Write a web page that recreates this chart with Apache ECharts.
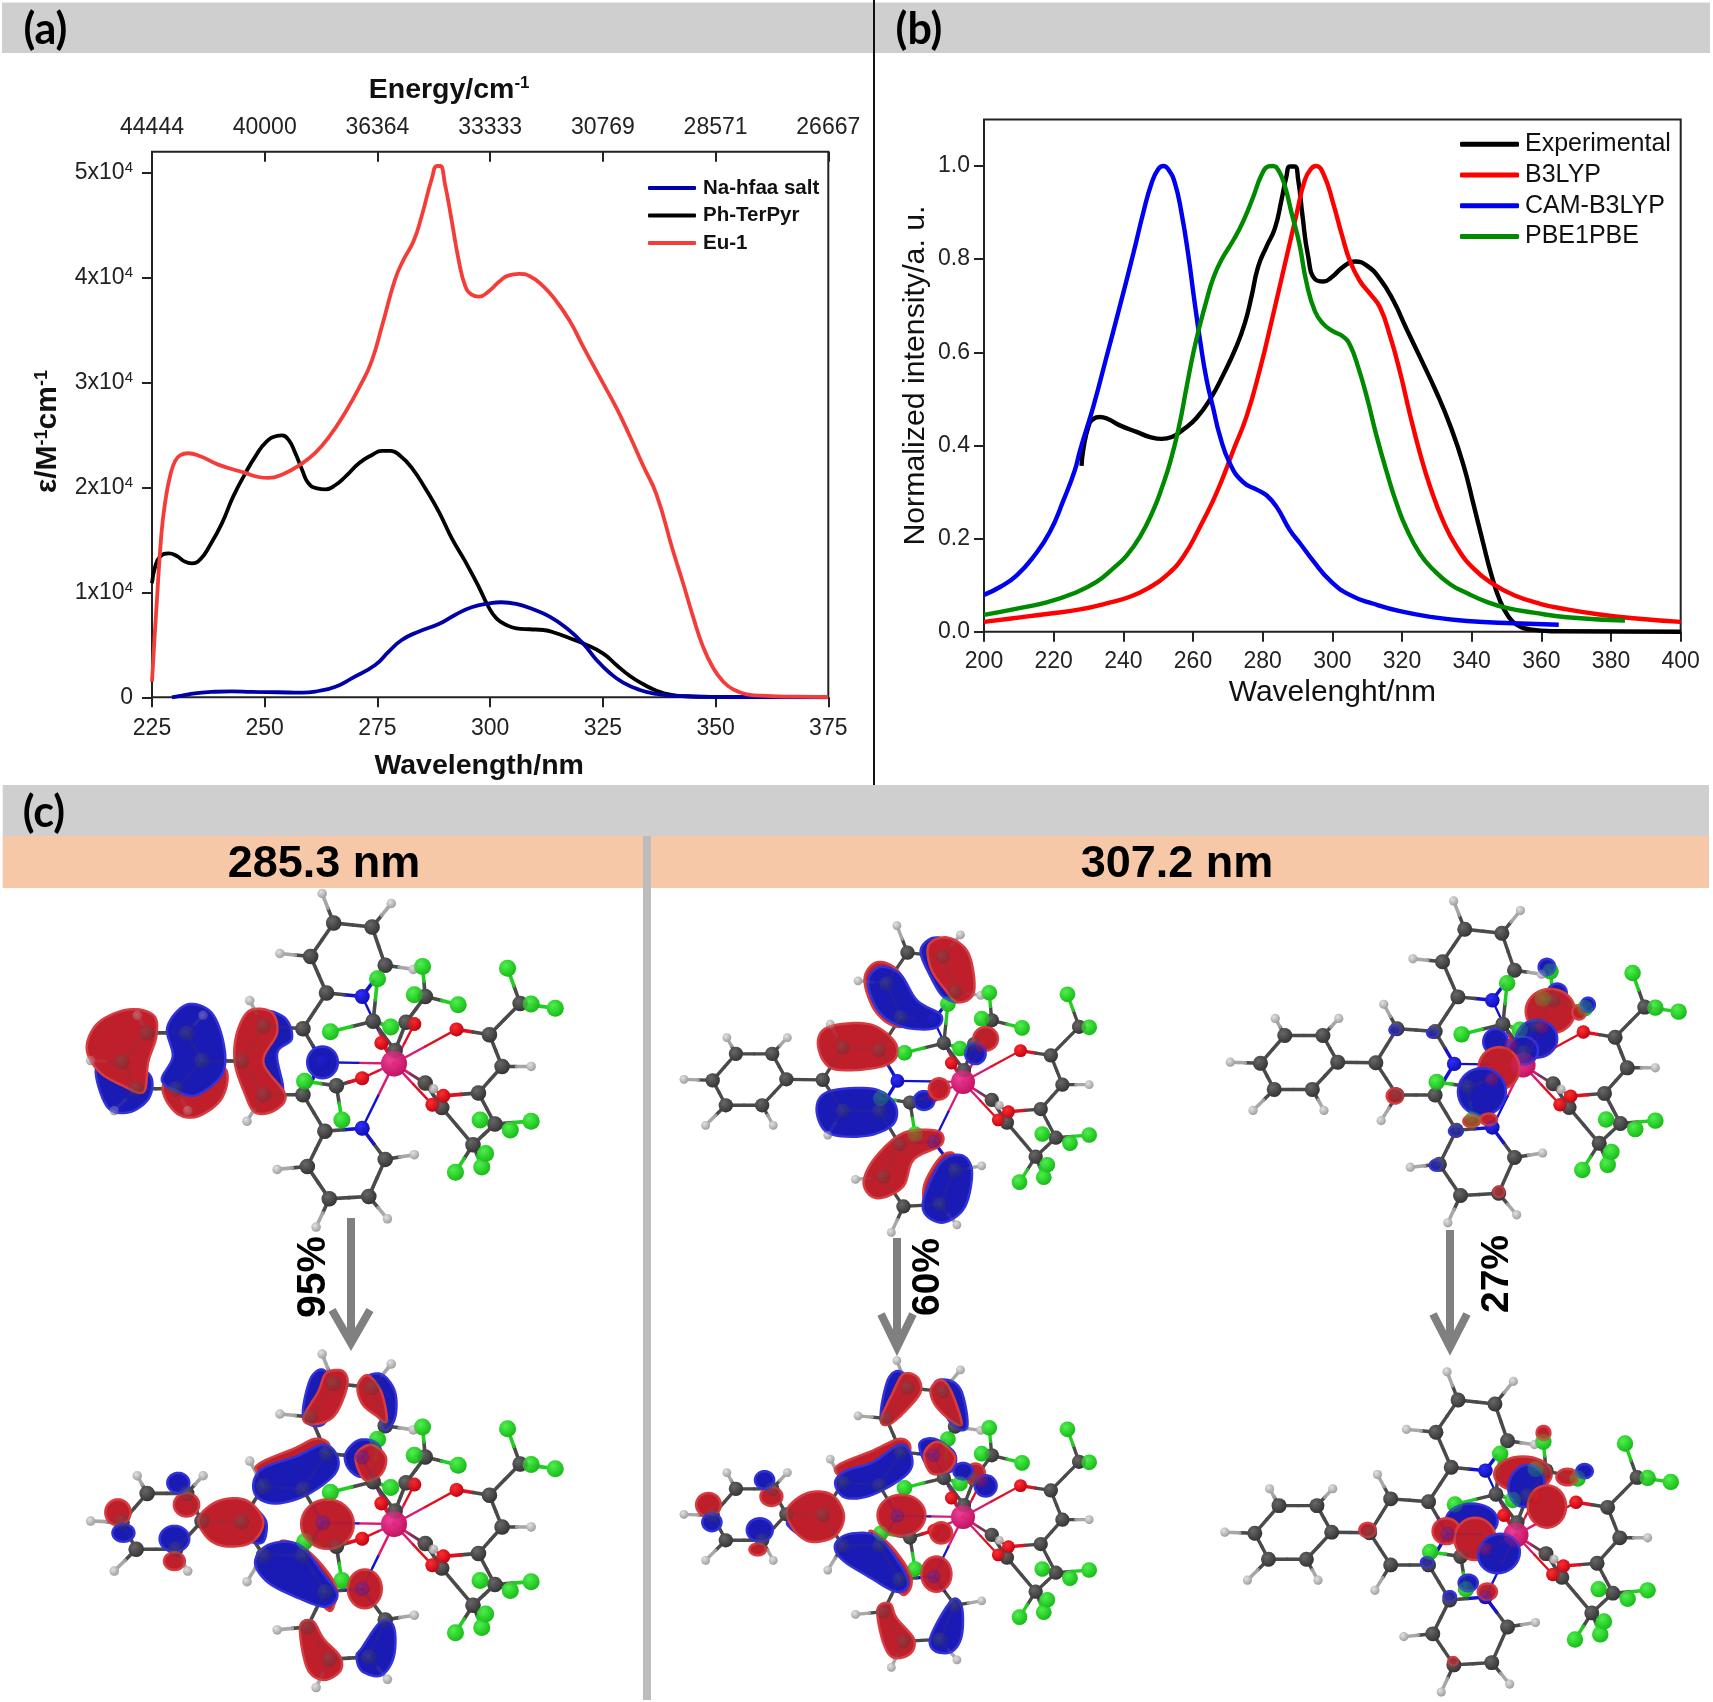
<!DOCTYPE html>
<html><head><meta charset="utf-8">
<script src="https://cdn.jsdelivr.net/npm/echarts@6/dist/echarts.min.js"></script>
<style>html,body{margin:0;padding:0;background:#fff}#c{width:1713px;height:1702px}</style></head>
<body><div id="c"></div>
<script>
// ---------- panel (a): wavelength nm, epsilon in 10^4 M-1 cm-1 ----------
const energyTickLabels = ['44444','40000','36364','33333','30769','28571','26667'];
const epsilonTicks = [0,1,2,3,4,5];
const naHfaa = [[229.4,0],[231.6,.016],[234.5,.038],[238.2,.051],[242.7,.057],[247.1,.051],[253,.048],[258.3,.044],[261.9,.06],[265.7,.10],[269.3,.181],[274.5,.308],[277.5,.435],[280.4,.546],[284.1,.625],[288.6,.698],[292.2,.784],[295.9,.857],[299.9,.895],[302.5,.905],[305.8,.889],[309.5,.838],[313.2,.768],[317,.657],[320.6,.514],[323.6,.356],[326.6,.229],[329.5,.14],[333.2,.07],[336.9,.032],[341.3,.013],[349.5,.003],[375,0]];
const phTerPyr = [[225,1.086],[225.7,1.244],[226.8,1.34],[228.7,1.371],[230.5,1.346],[232.3,1.292],[233.8,1.276],[235.7,1.314],[237.9,1.451],[240.5,1.657],[243,1.911],[245.7,2.133],[247.9,2.292],[250.4,2.435],[252.7,2.489],[253.8,2.495],[255.3,2.451],[256.8,2.324],[258.3,2.165],[259.7,2.038],[261.6,1.990],[263.5,1.981],[265.7,2.022],[267.9,2.102],[270.9,2.229],[273.8,2.308],[276,2.346],[277.9,2.346],[280.1,2.298],[282.7,2.181],[285.6,1.99],[288.6,1.768],[291.5,1.514],[294.5,1.292],[297.5,1.05],[299.6,.863],[301.4,.752],[303.6,.689],[305.8,.657],[308.8,.648],[311.8,.641],[314.7,.61],[317.7,.562],[320.6,.514],[325,.419],[328,.308],[331,.203],[334,.124],[336.9,.063],[339.9,.025],[343.6,.01],[349.5,.003],[375,0]];
const eu1 = [[225,.149],[225.4,.45],[226,.863],[227.1,1.562],[228,1.88],[229,2.105],[230.1,2.248],[231.3,2.307],[233,2.324],[235.7,2.295],[239.7,2.216],[245.6,2.137],[248.6,2.098],[250.8,2.089],[253.8,2.12],[258.2,2.225],[261.2,2.327],[264.1,2.47],[267.8,2.708],[271.5,2.994],[273.7,3.2],[276,3.533],[278.9,3.978],[280.8,4.168],[283,4.343],[284.8,4.581],[287.1,4.946],[288.2,5.06],[288.9,5.06],[290,4.883],[291.5,4.533],[293,4.168],[294.5,3.914],[295.9,3.835],[297.5,3.815],[299.5,3.86],[302.1,3.962],[304,4.016],[306.4,4.032],[308.8,4.01],[311.8,3.914],[314.7,3.771],[317.7,3.581],[320.6,3.343],[325,2.994],[328,2.756],[331,2.486],[334,2.2],[336.9,1.93],[340.5,1.403],[342.8,1.086],[345,.768],[347.2,.483],[349.5,.276],[351.7,.149],[353.9,.076],[356.9,.029],[361.3,.013],[368,.006],[375,.003]];
// ---------- panel (b): wavelength nm, normalized intensity ----------
const normalizedTicks = [0,.2,.4,.6,.8,1];
const experimental = [[228,.356],[228.5,.391],[230,.441],[231.4,.457],[233.3,.461],[235.7,.456],[239,.443],[243.8,.429],[247.7,.418],[251,.414],[253.9,.418],[257.2,.434],[261,.459],[264.9,.499],[268.7,.552],[272.5,.613],[274.9,.663],[276.8,.72],[278.7,.784],[281.1,.827],[283.5,.866],[285.4,.927],[286.8,.977],[287.8,.999],[289.2,.999],[290.2,.97],[291.4,.895],[293,.808],[295,.757],[297.4,.752],[299.8,.761],[303.2,.784],[306.5,.795],[309.9,.786],[313.7,.757],[317.5,.711],[321.3,.65],[325.2,.589],[330,.512],[333.8,.443],[337.6,.359],[340.5,.274],[343.3,.19],[345.7,.121],[348.1,.067],[350.5,.033],[352.9,.015],[356.7,.005],[363.4,.001],[400,0]];
const b3lyp = [[200,.021],[208.4,.029],[218,.038],[227.6,.048],[235.2,.061],[241.9,.075],[247.7,.096],[252.4,.121],[257.2,.161],[262,.225],[265.8,.282],[268.7,.333],[271.6,.39],[275.4,.463],[279.2,.563],[283.1,.684],[286.9,.806],[289.8,.899],[292.1,.97],[294,.995],[295.3,1],[297.6,.98],[300.3,.918],[302.7,.853],[305.1,.795],[307.9,.753],[310.8,.726],[313.7,.696],[316.6,.634],[319.4,.558],[322.3,.466],[325.2,.382],[328,.313],[331.9,.236],[335.7,.182],[340.5,.136],[346.2,.102],[352,.079],[359.6,.06],[367.3,.048],[376.8,.037],[386.4,.029],[400,.021]];
const camB3lyp = [[200,.079],[204.6,.096],[209.4,.121],[214.2,.161],[218.9,.214],[222.8,.282],[226,.345],[227.6,.39],[231.4,.484],[235.2,.591],[239,.699],[242.9,.813],[245.7,.899],[248.1,.963],[250,.993],[251.5,1],[252.9,.993],[254.8,.963],[256.7,.899],[258.7,.806],[260.1,.727],[262,.627],[263.9,.541],[265.8,.48],[267.7,.421],[270.6,.361],[274.4,.321],[278.3,.305],[281.1,.293],[284,.268],[287.8,.218],[290.7,.19],[294.5,.152],[299.3,.11],[305,.079],[311.8,.06],[319.4,.044],[329,.031],[338.6,.023],[352,.018],[365,.015]];
const pbe1pbe = [[200,.036],[208.4,.048],[218,.063],[225.6,.082],[232.3,.107],[237.1,.136],[241,.164],[244.8,.204],[248.6,.261],[251.2,.312],[253.4,.363],[255.8,.434],[258.2,.527],[260.1,.599],[262,.659],[263.9,.712],[265.8,.759],[268.2,.799],[271.6,.841],[274.4,.881],[277.3,.934],[279.7,.981],[281.6,.999],[282.9,1],[284.5,.991],[286.4,.956],[288.3,.899],[290.5,.834],[292.6,.749],[295,.688],[297.4,.661],[300,.646],[303.2,.633],[305.1,.615],[307.5,.566],[309.9,.504],[312.7,.42],[315.6,.343],[318.5,.274],[321.3,.221],[325.2,.167],[329,.133],[333.8,.102],[338.6,.083],[344.3,.064],[350,.051],[357.7,.041],[367.3,.031],[384,.024]];

// ---------- panel (c): molecular structure, in a reference molecule's units ----------
const atomsC = {t1:[608,243],t2:[678,250],t3:[702,315],t5:[595,362],t6:[566,300],c1:[552,423],c2:[480,418],c3:[440,478],c4:[480,535],c5:[552,535],p1:[368,477],p2:[340,430],p3:[268,430],p4:[222,479],p5:[248,525],p6:[320,525],b1:[592,597],b2:[560,657],b3:[600,712],b4:[672,708],b5:[702,645],la1:[892,433],la2:[915,487],la3:[872,532],cf1:[948,380],cf2:[902,585],lb1:[775,515],lb2:[805,557],lb3:[862,620],lc1:[680,410],lc2:[720,460],lc3:[775,368],lc4:[740,412],lc5:[613,520]};
const atomsH = {ht1:[587,193],ht2:[713,210],ht3:[753,322],ht6:[510,295],hc2:[455,375],hc4:[450,580],hp2:[370,400],hp3:[250,400],hp4:[165,477],hp5:[208,562],hp6:[342,562],hb2:[505,662],hb3:[576,760],hb4:[706,746],hb5:[755,637],hla:[968,487],hlb:[790,525]};
const atomsN = {nt:[660,368],nc:[588,480],nb:[660,592]};
const atomsO = {o1:[832,424],o2:[808,537],o3:[660,507],o4:[755,415],o5:[695,447],o6:[788,552]};
const atomsF = {f1:[925,320],f2:[968,381],f3:[1012,388],f4:[968,580],f5:[930,595],f6:[875,578],f7:[830,667],f8:[878,658],f9:[885,635],f10:[770,317],f11:[835,382],f12:[755,365],f13:[688,338],f14:[602,428],f15:[712,420],f16:[555,512],f17:[623,578]};
const atomsEu = {eu:[718,482]};
const bonds = 't1-t2 t2-t3 t3-nt nt-t5 t5-t6 t6-t1 t1-ht1 t2-ht2 t3-ht3 t6-ht6 t5-c1 c1-c2 c2-c3 c3-c4 c4-c5 c5-nc nc-c1 c2-hc2 c4-hc4 c3-p1 c5-b1 p1-p2 p2-p3 p3-p4 p4-p5 p5-p6 p6-p1 p2-hp2 p3-hp3 p4-hp4 p5-hp5 p6-hp6 nb-b1 b1-b2 b2-b3 b3-b4 b4-b5 b5-nb b2-hb2 b3-hb3 b4-hb4 b5-hb5 eu-nt eu-nc eu-nb eu-o1 eu-o2 eu-o3 eu-o4 eu-o5 eu-o6 o1-la1 la1-la2 la2-la3 la3-o2 la2-hla la1-cf1 cf1-f1 cf1-f2 cf1-f3 la3-cf2 cf2-f4 cf2-f5 cf2-f6 lb1-lb2 lb2-lb3 lb1-hlb lb2-o6 lb1-eu lb3-f7 lb3-f8 lb3-f9 lb3-cf2 lc1-lc2 lc2-eu lc1-f13 lc1-f14 lc1-f15 lc3-lc4 lc3-f10 lc3-f11 lc3-f12 lc4-o4 lc4-lc2 lc5-o3 lc5-f16 lc5-f17'.split(' ');
const placements = [[394,1063.5,1],[394,1524,1],[963,1082,.92],[963,1517,.92],[1523,1065,.965],[1516,1535,.96]];
const croppedAtoms = [[],[],['f3'],['f3'],[],[]];
// orbital lobes in crop units of the reference:
// ['r'|'b', outline x,y pairs...] or [centre x, centre y, radius x, radius y, tilt degrees, 'r'|'b']
const lobesA = [
 ['b',175,490,215,480,272,500,272,540,235,565,195,555],
 ['r',158,455,180,412,235,390,280,400,285,435,270,480,262,530,225,520,180,495],
 ['r',297,520,345,480,410,490,405,540,360,572,320,565],
 ['b',305,420,340,382,385,395,408,450,405,500,360,535,325,530,295,510,315,470],
 ['b',480,395,520,405,532,440,505,465,515,530,470,520,480,450],
 ['r',432,430,455,392,495,395,505,430,480,480,520,535,500,562,465,565,445,530,428,480],
 [588,480,28,27,0,'b']];
const lobesB = [
 ['b',553,1085,565,1020,590,1003,610,1040,590,1095],
 ['r',553,1085,580,1040,595,1008,625,1005,633,1030,610,1080,575,1095],
 ['b',665,1020,695,1010,720,1040,720,1085,700,1105,690,1060],
 ['r',652,1030,670,1012,695,1040,705,1090,685,1080,660,1060],
 ['r',465,1170,540,1135,575,1120,600,1130,590,1165,540,1200],
 ['b',462,1195,480,1170,540,1150,590,1130,615,1150,610,1180,560,1215,505,1230,470,1220],
 ['b',630,1145,655,1122,690,1130,695,1170,660,1185,635,1170],
 ['r',648,1150,675,1130,703,1150,695,1180,665,1190],
 ['b',460,1240,485,1260,480,1295,455,1290],
 ['r',362,1255,400,1225,450,1225,480,1260,460,1295,415,1303,380,1290],
 [597,1265,48,42,0,'r'],
 ['r',510,1300,560,1310,610,1365,610,1400,590,1405],
 ['b',465,1330,490,1300,545,1300,590,1350,615,1385,595,1405,555,1395,490,1365],
 [665,1375,31,33,0,'r'],
 ['r',547,1440,570,1430,590,1460,620,1490,620,1515,590,1530,560,1510],
 ['b',660,1475,695,1430,718,1440,718,1490,695,1522,660,1515,650,1490],
 [215,1245,23,22,0,'r'],[225,1280,20,15,0,'b'],[340,1232,23,20,0,'r'],[325,1195,20,17,0,'b'],[318,1290,27,22,0,'b'],[318,1328,19,15,0,'r']];
const lobesC = [
 ['r',260,450,275,420,335,415,372,445,372,475,340,490,280,490],
 ['b',258,560,275,530,340,525,372,550,370,585,330,605,275,600],
 ['r',328,340,345,310,375,322,400,370,420,395,380,420,345,395],
 ['b',333,345,350,318,380,330,405,375,440,400,430,422,385,420,350,395],
 ['b',410,290,430,268,455,285,470,370,445,370,425,335],
 ['r',422,280,450,268,480,295,488,360,465,378,445,355,425,320],
 ['r',327,680,345,640,385,600,435,597,440,620,400,645,385,690,355,710,335,705],
 ['r',415,690,440,640,460,640,445,700,440,745,420,735],
 ['b',415,710,440,650,470,638,485,665,475,725,445,752,418,740],
 [505,440,18,20,0,'r'],[490,465,15,18,0,'b'],[415,545,15,16,0,'b'],[437,525,15,18,0,'r']];
const lobesD = [
 ['b',352,1085,362,1020,380,1005,392,1030,375,1085],
 ['r',352,1088,370,1040,385,1010,405,1015,410,1040,390,1070,365,1095],
 ['b',430,1030,450,1020,470,1040,478,1100,455,1095],
 ['r',425,1035,440,1020,455,1040,470,1095,450,1085,430,1060],
 ['r',285,1170,340,1140,380,1120,395,1135,380,1165,320,1195],
 ['b',285,1195,300,1175,340,1160,380,1130,397,1150,390,1180,340,1215,300,1220],
 ['b',408,1130,430,1120,460,1145,455,1175,425,1175],
 ['r',415,1145,435,1125,460,1150,450,1175,425,1178],
 ['b',225,1255,245,1280,235,1285,215,1265],
 ['r',215,1240,245,1212,280,1215,298,1250,285,1285,250,1295,225,1275],
 [382,1250,35,35,0,'r'],
 ['r',335,1280,365,1300,395,1350,392,1380,375,1375],
 ['b',285,1300,305,1282,345,1285,375,1325,392,1365,375,1380,335,1355,295,1325],
 [433,1350,22,30,0,'r'],
 ['r',347,1410,365,1400,375,1425,400,1460,395,1485,370,1492,355,1465],
 ['b',425,1455,455,1395,470,1405,470,1455,455,1482,430,1480],
 [100,1232,18,20,0,'r'],[105,1262,14,15,0,'b'],[192,1218,16,16,0,'r'],[182,1190,14,15,0,'b'],[175,1275,19,20,0,'b'],[172,1308,12,10,0,'r'],[490,1180,14,18,0,'r'],[505,1200,16,18,0,'b'],[440,1280,16,18,0,'r'],[472,1175,14,14,0,'b']];
const lobesE = [[1340,362,14,16,0,'b'],[1330,393,36,38,0,'r'],[1372,395,10,12,0,'r'],[1385,382,10,12,0,'b'],[1325,318,12,14,0,'b'],[1310,440,30,32,0,'b'],[1250,445,18,22,0,'b'],[1290,460,22,24,0,'b'],[1255,490,30,36,0,'r'],[1230,530,35,40,0,'b'],[1103,537,12,13,0,'r'],[1255,700,8,9,0,'r'],[1163,655,9,9,0,'b'],[1103,425,8,8,0,'b'],[1158,430,8,8,0,'b'],[1192,597,10,9,0,'b'],[1215,580,12,10,0,'r'],[1240,577,12,10,0,'r']];
const lobesF = [[1355,1185,16,14,0,'r'],[1380,1175,12,12,0,'b'],[1320,1110,10,12,0,'r'],[1290,1180,42,30,0,'r'],[1295,1200,26,36,10,'b'],[1325,1235,28,36,0,'r'],[1215,1260,38,30,0,'b'],[1178,1277,20,22,0,'r'],[1220,1290,30,36,0,'r'],[1255,1315,30,34,20,'b'],[1063,1275,12,12,0,'r'],[1210,1365,14,14,0,'b'],[1238,1380,14,14,0,'r'],[1188,1498,7,7,0,'r'],[1150,1330,9,9,0,'b'],[1183,1388,9,9,0,'b']];

// ---------- bars, labels ----------
const panelLetters = [['(a)',45.4,30],['(b)',919,30],['(c)',44,813]];
const stateLabels = [['285.3 nm',324,865],['307.2 nm',1177,865]];
const percentLabels = [['95%',314,1277,41],['60%',928,1277,39],['27%',1497,1274,39]];
const arrows = [[351,1218,1343,19],[897,1238,1347,16],[1450,1230,1347,17]];

const Z3 = [1.823,1.70,0,780], Z4 = [1.461,1.70,640,780];
const SANS = '"Liberation Sans",Arial,sans-serif';
const allAtoms = Object.assign({},atomsC,atomsH,atomsN,atomsO,atomsF,atomsEu);
const typeOf = {};
[[atomsC,'C'],[atomsH,'H'],[atomsN,'N'],[atomsO,'O'],[atomsF,'F'],[atomsEu,'Eu']].forEach(([o,t])=>Object.keys(o).forEach(k=>typeOf[k]=t));
const bondColor = {C:'#4a4a4a',H:'#a8a8a8',N:'#1414d0',O:'#e01020',F:'#22d022',Eu:'#d81c70'};
const atomLook = {C:[15.5,'#6a6a6a','#303030'],H:[9.5,'#e4e4e4','#9a9a9a'],N:[15,'#3030ff','#0c0cb0'],O:[14,'#ff3030','#c00010'],F:[17,'#50f050','#14b814'],Eu:[26,'#f0409a','#c01060']};
function place(pt,m){return [m[0]+m[2]*(pt[0]-718)/1.823, m[1]+m[2]*(pt[1]-482)/1.70];}

const bondSegs = [];
placements.forEach((m,i)=>bonds.forEach(b=>{
  const [a,c]=b.split('-');
  if(croppedAtoms[i].includes(a)||croppedAtoms[i].includes(c)) return;
  const A=place(allAtoms[a],m),C=place(allAtoms[c],m);
  const M=[(A[0]+C[0])/2,(A[1]+C[1])/2];
  const w=(typeOf[a]==='Eu'||typeOf[c]==='Eu'?2.4:3.6)*m[2];
  bondSegs.push([A[0],A[1],M[0],M[1],bondColor[typeOf[a]],w]);
  bondSegs.push([M[0],M[1],C[0],C[1],bondColor[typeOf[c]],w]);
}));
function atomSeries(type,group,z,op){
  const L=atomLook[type];
  const data=[]; placements.forEach((m,i)=>Object.keys(group).forEach(k=>{
    if(croppedAtoms[i].includes(k)) return;
    const q=place(group[k],m);data.push([q[0],q[1],L[0]*m[2]]);}));
  return {type:'scatter',name:'atoms '+type+z,xAxisIndex:3,yAxisIndex:2,data,z,silent:true,symbolSize:d=>d[2],
    itemStyle:{color:new echarts.graphic.RadialGradient(.38,.35,.7,[{offset:0,color:L[1]},{offset:1,color:L[2]}]),opacity:op},animation:false};
}
function bondSeries(z,op){
  return {type:'custom',name:'bonds'+z,xAxisIndex:3,yAxisIndex:2,z,silent:true,animation:false,clip:false,
    data:bondSegs,encode:{x:0,y:1},
    renderItem:(p,api)=>{const d=bondSegs[p.dataIndex],a=api.coord([d[0],d[1]]),b=api.coord([d[2],d[3]]);
      return {type:'line',shape:{x1:a[0],y1:a[1],x2:b[0],y2:b[1]},style:{stroke:d[4],lineWidth:d[5],lineCap:'round',opacity:op}};}};
}
// closed Catmull-Rom through an outline's points
function closedSpline(P){
  const out=[],n=P.length,steps=8;
  for(let i=0;i<n;i++){
    const a=P[(i-1+n)%n],b=P[i],c=P[(i+1)%n],d=P[(i+2)%n];
    for(let s=0;s<steps;s++){
      const t=s/steps,t2=t*t,t3=t2*t;
      out.push([0,1].map(k=>.5*(2*b[k]+(c[k]-a[k])*t+(2*a[k]-5*b[k]+4*c[k]-d[k])*t2+(3*b[k]-a[k]-3*c[k]+d[k])*t3)));
    }
  }
  return out;
}
function lobeOutline(l,Z){
  let pts=[],k;
  if(typeof l[0]==='string'){
    k=l[0];
    const raw=[];
    for(let i=1;i<l.length;i+=2) raw.push([l[i],l[i+1]]);
    pts=closedSpline(raw);
  } else {
    k=l[5];
    const t=l[4]*Math.PI/180;
    for(let i=0;i<36;i++){const a=i/36*2*Math.PI,ex=l[2]*Math.cos(a),ey=l[3]*Math.sin(a);
      pts.push([l[0]+ex*Math.cos(t)-ey*Math.sin(t),l[1]+ex*Math.sin(t)+ey*Math.cos(t)]);}
  }
  return {pts:pts.map(q=>[Z[2]+q[0]/Z[0],Z[3]+q[1]/Z[1]]),k};
}
const rimColor={r:'#d63c40',b:'#3232dc'}, coreColor={r:'#bf1f2b',b:'#1a1ab4'};
const lobeShapes=[];
[[lobesA,Z3],[lobesB,Z3],[lobesC,Z4],[lobesD,Z4],[lobesE,Z4],[lobesF,Z4]].forEach(([ls,Z])=>ls.forEach(l=>lobeShapes.push(lobeOutline(l,Z))));

const chart=echarts.init(document.getElementById('c'),null,{renderer:'canvas'});
const axisCol='#222';
const lineS=(name,data,col,w,xi,yi,z)=>({type:'line',name,data,xAxisIndex:xi,yAxisIndex:yi,showSymbol:false,symbol:'none',smooth:.5,lineStyle:{color:col,width:w},itemStyle:{color:col},z:z||2,animation:false,silent:true,clip:true});

const gfx=[];
const rect=(x,y,w,h,fill)=>gfx.push({type:'rect',shape:{x,y,width:w,height:h},style:{fill},z:0,silent:true});
rect(2,2.5,871,50.5,'#cfcfcf'); rect(875,2.5,835,50.5,'#cfcfcf'); rect(2.7,785,1706.3,51,'#cfcfcf');
rect(2.7,836,640.3,52,'#f6c8a8'); rect(651,836,1058,52,'#f6c8a8'); rect(643,836,8,864,'#bcbcbc');
rect(873,0,2,785,'#111');
const txt=(t,x,y,o,rot)=>gfx.push({type:'text',x,y,rotation:rot||0,z:8,silent:true,style:Object.assign({text:t,fill:'#000',align:'center',verticalAlign:'middle',textAlign:'center',textVerticalAlign:'middle',fontFamily:SANS},o)});
panelLetters.forEach(p=>txt(p[0],p[1],p[2],{fontFamily:'Lato,"Open Sans",sans-serif',fontWeight:'bold',fontSize:43}));
stateLabels.forEach(p=>txt(p[0],p[1],p[2],{fontWeight:'bold',fontSize:45}));
percentLabels.forEach(p=>txt(p[0],p[1],p[2],{fontWeight:'bold',fontSize:p[3]},Math.PI/2));
arrows.forEach(a=>{
  gfx.push({type:'polyline',z:8,silent:true,shape:{points:[[a[0],a[1]],[a[0],a[2]]]},style:{stroke:'#808080',lineWidth:8,fill:null}});
  gfx.push({type:'polyline',z:8,silent:true,shape:{points:[[a[0]-a[3],a[2]-33],[a[0],a[2]],[a[0]+a[3],a[2]-33]]},style:{stroke:'#808080',lineWidth:8,fill:null,lineJoin:'miter'}});
});

chart.setOption({
  animation:false,backgroundColor:'#fff',
  textStyle:{fontFamily:SANS},
  grid:[
    {left:152,top:151.7,width:676.3,height:545.6,show:true,borderColor:axisCol,borderWidth:2,backgroundColor:'transparent',containLabel:false},
    {left:984,top:119.4,width:696.7,height:512.3,show:true,borderColor:axisCol,borderWidth:2,backgroundColor:'transparent',containLabel:false},
    {left:0,top:0,width:1713,height:1702,show:false,containLabel:false}
  ],
  legend:[
    {data:['Na-hfaa salt','Ph-TerPyr','Eu-1'],left:648,top:177.5,padding:0,orient:'vertical',itemWidth:48,itemHeight:4,itemGap:6.5,icon:'roundRect',
      textStyle:{fontFamily:SANS,fontSize:20.5,fontWeight:'bold',color:'#111',padding:[0,0,0,2]},selectedMode:false},
    {data:['Experimental','B3LYP','CAM-B3LYP','PBE1PBE'],left:1460,top:131.7,padding:0,orient:'vertical',itemWidth:59,itemHeight:5,itemGap:5.8,icon:'roundRect',
      textStyle:{fontFamily:SANS,fontSize:25,color:'#111',padding:[0,0,0,1]},selectedMode:false}
  ],
  xAxis:[
    {type:'value',gridIndex:0,min:225,max:375,interval:25,position:'bottom',splitLine:{show:false},axisLine:{show:false},
      axisTick:{length:10,lineStyle:{color:axisCol,width:2}},axisLabel:{margin:20,fontSize:23,color:axisCol},
      name:'Wavelength/nm',nameLocation:'middle',nameGap:54,nameTextStyle:{fontSize:28.5,fontWeight:'bold',color:'#111',padding:[0,22,0,0]}},
    {type:'value',gridIndex:0,min:225,max:375,interval:25,position:'top',splitLine:{show:false},axisLine:{show:false},
      axisTick:{inside:true,length:10,lineStyle:{color:axisCol,width:2}},
      axisLabel:{margin:13,fontSize:23,color:axisCol,formatter:v=>energyTickLabels[Math.round((v-225)/25)]},
      name:'{m|Energy/cm}{s|-1}',nameLocation:'middle',nameGap:47.5,nameTextStyle:{padding:[0,82,0,0],rich:{m:{fontSize:28.5,fontWeight:'bold',color:'#111'},s:{fontSize:17,fontWeight:'bold',color:'#111',verticalAlign:'top',padding:[0,0,8,0]}}}},
    {type:'value',gridIndex:1,min:200,max:400,interval:20,position:'bottom',splitLine:{show:false},axisLine:{show:false},
      axisTick:{length:10,lineStyle:{color:axisCol,width:2}},axisLabel:{margin:18,fontSize:23,color:axisCol},
      name:'Wavelenght/nm',nameLocation:'middle',nameGap:46,nameTextStyle:{fontSize:30,color:'#111'}},
    {type:'value',gridIndex:2,min:0,max:1713,show:false}
  ],
  yAxis:[
    {type:'value',gridIndex:0,min:0,max:5.196,position:'left',splitLine:{show:false},axisLine:{show:false},
      axisTick:{length:10,lineStyle:{color:axisCol,width:2},customValues:epsilonTicks},
      axisLabel:{margin:19,color:axisCol,customValues:epsilonTicks,formatter:v=>v===0?'{b|0}':'{b|'+v+'x10}{s|4}',
        rich:{b:{fontSize:23,color:axisCol},s:{fontSize:15,color:axisCol,verticalAlign:'top',padding:[0,0,8,0]}}},
      name:'{m|ε/M}{s|-1}{m|cm}{s|-1}',nameLocation:'middle',nameRotate:90,nameGap:89,
      nameTextStyle:{padding:[0,14,0,0],rich:{m:{fontSize:30,fontWeight:'bold',color:'#111'},s:{fontSize:18,fontWeight:'bold',color:'#111',verticalAlign:'top',padding:[0,0,8,0]}}}},
    {type:'value',gridIndex:1,min:0,max:1.1,position:'left',splitLine:{show:false},axisLine:{show:false},
      axisTick:{length:10,lineStyle:{color:axisCol,width:2},customValues:normalizedTicks},
      axisLabel:{margin:14,fontSize:23,color:axisCol,customValues:normalizedTicks,formatter:v=>v.toFixed(1)},
      name:'Normalized intensity/a. u.',nameLocation:'middle',nameRotate:90,nameGap:53,nameTextStyle:{fontSize:30.3,color:'#111'}},
    {type:'value',gridIndex:2,min:0,max:1702,inverse:true,show:false}
  ],
  series:[
    lineS('Na-hfaa salt',naHfaa,'#0000a8',3.8,0,0,3),
    lineS('Ph-TerPyr',phTerPyr,'#000',3.8,0,0,2),
    lineS('Eu-1',eu1,'#f43c38',3.8,0,0,4),
    lineS('Experimental',experimental,'#000',4.4,2,1,2),
    lineS('B3LYP',b3lyp,'#ff0000',4.4,2,1,3),
    lineS('CAM-B3LYP',camB3lyp,'#0000f0',4.4,2,1,4),
    lineS('PBE1PBE',pbe1pbe,'#008a00',4.4,2,1,5),
    bondSeries(2,1),
    atomSeries('C',atomsC,3,1),atomSeries('H',atomsH,3,1),atomSeries('N',atomsN,3,1),atomSeries('O',atomsO,3,1),atomSeries('F',atomsF,3,1),atomSeries('Eu',atomsEu,3,1),
    {type:'custom',name:'orbital lobes',xAxisIndex:3,yAxisIndex:2,z:4,silent:true,animation:false,clip:false,
      data:lobeShapes.map(s=>[s.pts[0][0],s.pts[0][1]]),encode:{x:0,y:1},
      renderItem:(p,api)=>{const s=lobeShapes[p.dataIndex];
        return {type:'polygon',shape:{points:s.pts.map(q=>api.coord(q))},style:{fill:coreColor[s.k],stroke:rimColor[s.k],lineWidth:2.5}};}},
    bondSeries(5,.1),
    atomSeries('C',atomsC,6,.28),atomSeries('H',atomsH,6,.28),atomSeries('N',atomsN,6,.28),atomSeries('O',atomsO,6,.28),atomSeries('F',atomsF,6,.28),atomSeries('Eu',atomsEu,6,.28)
  ],
  graphic:{elements:gfx}
});
</script></body></html>
